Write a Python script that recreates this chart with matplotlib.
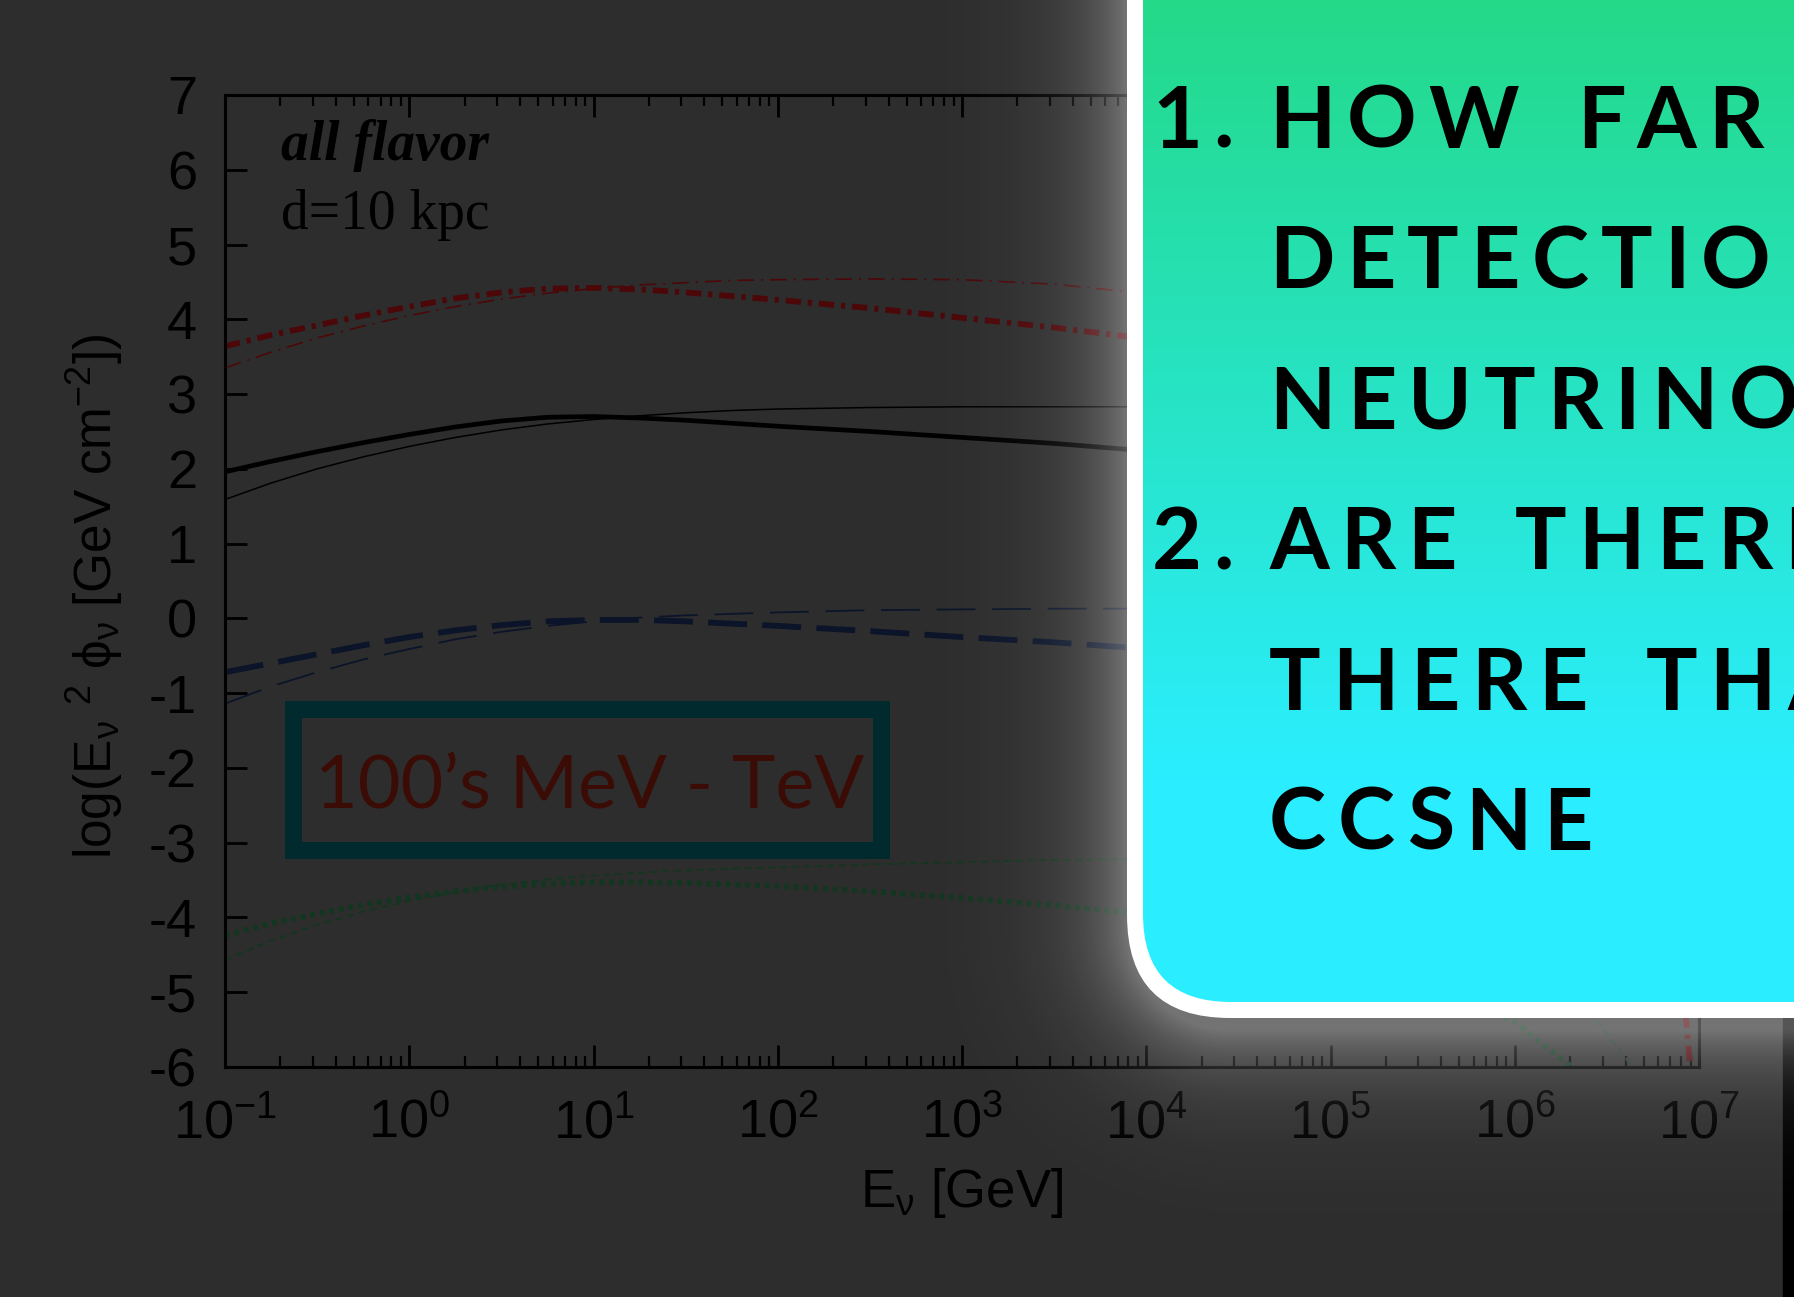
import numpy as np
import matplotlib
matplotlib.use("Agg")
import matplotlib.pyplot as plt
from matplotlib.patches import FancyBboxPatch, Rectangle
from matplotlib.ticker import LogLocator, MultipleLocator, NullFormatter

# =============================================================================
# Data: log10(E^2 phi) against log10(E / GeV)
# =============================================================================

LOGE = [-1, -0.75, -0.5, -0.25, 0, 0.25, 0.5, 0.75, 1, 1.25, 1.5, 1.75, 2,
        2.5, 3, 3.5, 3.9]

red_thick_loge = LOGE + [4.5, 5, 5.5, 6, 6.5, 6.8, 6.93, 6.97]
red_thick = [3.64, 3.79, 3.92, 4.05, 4.17, 4.28, 4.36, 4.41, 4.42, 4.40, 4.36, 4.31, 4.26,
             4.15, 4.02, 3.89, 3.77,
             3.55, 3.3, 2.95, 2.4, 1.2, -1.8, -5.37, -6.5]

red_thin_loge = LOGE + [4.5, 5, 5.5, 6, 6.5, 7]
red_thin = [3.35, 3.56, 3.75, 3.91, 4.05, 4.17, 4.27, 4.35, 4.41, 4.46, 4.49, 4.52, 4.53,
            4.54, 4.53, 4.47, 4.37,
            4.15, 3.85, 3.4, 2.6, 1.0, -2.0]

black_thick_loge = LOGE + [4.5, 5, 5.5, 6, 6.5, 7]
black_thick = [1.96, 2.10, 2.23, 2.35, 2.46, 2.56, 2.64, 2.69, 2.70, 2.68, 2.65, 2.61, 2.57,
               2.50, 2.42, 2.34, 2.26,
               2.1, 1.9, 1.6, 1.0, 0.0, -3.0]

black_thin_loge = LOGE + [4.5, 5, 5.5, 6, 6.5, 7]
black_thin = [1.59, 1.81, 2.0, 2.16, 2.3, 2.42, 2.52, 2.60, 2.66, 2.71, 2.75, 2.78, 2.80,
              2.82, 2.83, 2.83, 2.83,
              2.8, 2.7, 2.5, 2.0, 0.8, -2.0]

blue_thick_loge = LOGE + [4.5, 5, 5.5, 6, 6.5, 7]
blue_thick = [-0.72, -0.60, -0.48, -0.36, -0.25, -0.16, -0.09, -0.04, -0.02, -0.02, -0.04, -0.07, -0.10,
              -0.17, -0.25, -0.32, -0.39,
              -0.55, -0.75, -1.05, -1.6, -2.6, -4.5]

blue_thin_loge = LOGE + [4.5, 5, 5.5, 6, 6.5, 7]
blue_thin = [-1.14, -0.91, -0.72, -0.55, -0.41, -0.28, -0.18, -0.10, -0.04, 0.01, 0.04, 0.06, 0.08,
             0.11, 0.12, 0.13, 0.13,
             0.1, 0.0, -0.3, -1.0, -2.5, -4.5]

green_thick_loge = LOGE + [4.5, 5, 5.5, 6, 6.3, 6.45]
green_thick = [-4.24, -4.08, -3.95, -3.83, -3.73, -3.65, -3.59, -3.55, -3.53, -3.53, -3.54, -3.56, -3.58,
               -3.65, -3.74, -3.84, -3.93,
               -4.1, -4.35, -4.75, -5.4, -5.98, -6.4]

green_thin_loge = LOGE + [4.5, 5, 5.5, 6, 6.44, 6.6, 6.72]
green_thin = [-4.57, -4.31, -4.1, -3.92, -3.78, -3.66, -3.56, -3.49, -3.44, -3.40, -3.37, -3.35, -3.33,
              -3.29, -3.26, -3.23, -3.22,
              -3.3, -3.45, -3.8, -4.3, -5.37, -5.87, -6.4]

box_lines = [("1.", "HOW FAR"), ("", "DETECTIO"), ("", "NEUTRINOS"),
             ("2.", "ARE THERE"), ("", "THERE THAN"), ("", "CCSNE")]

# =============================================================================
# Style
# =============================================================================

W, H, DPI = 1794, 1297, 100
BG = "#2d2d2d"

plt.rcParams["font.family"] = ["Liberation Sans", "DejaVu Sans"]
plt.rcParams["mathtext.fontset"] = "custom"
plt.rcParams["mathtext.rm"] = "Liberation Sans"
plt.rcParams["mathtext.it"] = "Liberation Sans"
plt.rcParams["mathtext.sf"] = "Liberation Sans"
plt.rcParams["mathtext.bf"] = "Liberation Sans:bold"
plt.rcParams["axes.unicode_minus"] = False
plt.rcParams["lines.scale_dashes"] = False

fig = plt.figure(figsize=(W / DPI, H / DPI), dpi=DPI, facecolor=BG)
ax = fig.add_axes([225 / W, 230 / H, 1474 / W, 972 / H], facecolor=BG)

# =============================================================================
# Flux curves
# =============================================================================

def draw(loge, vals, color, lw, dashes=None):
    line, = ax.plot(10.0 ** np.array(loge), vals, color=color, lw=lw,
                    solid_capstyle="butt", dash_capstyle="butt",
                    solid_joinstyle="round")
    if dashes is not None:
        line.set_dashes(dashes)
    return line

RED, BLUE, GREEN, BLACK = "#4c0709", "#0b1429", "#12361f", "#000000"

draw(red_thick_loge, red_thick, RED, 4.2, (11, 5, 3, 5))
draw(red_thin_loge, red_thin, RED, 1.2, (12, 5, 1.5, 5))
draw(black_thick_loge, black_thick, BLACK, 3.4)
draw(black_thin_loge, black_thin, BLACK, 1.1)
draw(blue_thick_loge, blue_thick, BLUE, 4.2, (28, 11))
draw(blue_thin_loge, blue_thin, BLUE, 1.3, (28, 12))
draw(green_thick_loge, green_thick, GREEN, 4.0, (3.5, 3.5))
draw(green_thin_loge, green_thin, GREEN, 1.3, (5, 3.5))

ax.set_xscale("log")
ax.set_xlim(1e-1, 1e7)
ax.set_ylim(-6, 7)
ax.xaxis.set_major_locator(LogLocator(base=10, numticks=20))
ax.xaxis.set_minor_locator(LogLocator(base=10, subs=np.arange(2, 10), numticks=20))
ax.xaxis.set_minor_formatter(NullFormatter())
ax.yaxis.set_major_locator(MultipleLocator(1))

for sp in ax.spines.values():
    sp.set_linewidth(2.2)
    sp.set_color("black")
ax.tick_params(which="both", direction="in", top=True, right=True, colors="black",
               labelcolor="black", labelsize=39)
ax.tick_params(which="major", length=16, width=2.0)
ax.tick_params(which="minor", length=8, width=1.6)
ax.tick_params(axis="y", pad=20)
ax.tick_params(axis="x", pad=22)

ax.set_xlabel(r"E$_\nu$ [GeV]", fontsize=38, color="black", labelpad=12)
ax.set_ylabel(r"log(E$_\nu$ $^2$ $\phi_\nu$ [GeV cm$^{-2}$])", fontsize=37,
              color="black")
ax.yaxis.set_label_coords(-0.068, 0.484)

ax.text(0.038, 0.933, "all flavor", transform=ax.transAxes, fontsize=40,
        family="Liberation Serif", weight="bold", style="italic", color="black")
ax.text(0.038, 0.862, "d=10 kpc", transform=ax.transAxes, fontsize=40,
        family="Liberation Serif", color="black")

# =============================================================================
# Pixel-space layer: energy band label, glow, question box
# =============================================================================

ov = fig.add_axes([0, 0, 1, 1], zorder=5)
ov.set_xlim(0, W)
ov.set_ylim(H, 0)
ov.axis("off")
ov.patch.set_alpha(0)
renderer = fig.canvas.get_renderer()

# energy band label
ov.add_patch(Rectangle((292.5, 708.5), 588, 141, fill=False, ec="#002a2e", lw=12.2, zorder=1))
band = ov.text(590, 807, "100\u2019s MeV - TeV", ha="center", va="baseline",
               family="Lato", weight="normal", fontsize=60, color="#3b0c05", zorder=1)
bw = band.get_window_extent(renderer).width
band.set_fontsize(60 * 549 / bw)

# dark strip at the right edge below the box
ov.add_patch(Rectangle((1783, 1000), 30, 400, color="black", zorder=1.5))


def rounded_box_sdf(x, y, x0, y0, x1, y1, r):
    cx, cy = (x0 + x1) / 2, (y0 + y1) / 2
    bx, by = (x1 - x0) / 2 - r, (y1 - y0) / 2 - r
    qx = np.abs(x - cx) - bx
    qy = np.abs(y - cy) - by
    outside = np.hypot(np.maximum(qx, 0), np.maximum(qy, 0))
    inside = np.minimum(np.maximum(qx, qy), 0)
    return outside + inside - r


yy, xx = np.mgrid[0:H, 0:W] + 0.5
dist = rounded_box_sdf(xx, yy, 1127, -600, 2400, 1030, 103)
alpha = 0.34 * np.exp(-np.maximum(dist, 0) / 48.0)
glow = np.ones((H, W, 4))
glow[..., 3] = alpha
ov.imshow(glow, extent=[0, W, H, 0], aspect="auto", zorder=2, interpolation="bilinear")

# white rim and gradient fill
ov.add_patch(FancyBboxPatch((1127, -600), 1400, 1618,
                            boxstyle="round,pad=0,rounding_size=103",
                            fc="white", ec="none", zorder=3))
inner = FancyBboxPatch((1143, -600), 1400, 1602,
                       boxstyle="round,pad=0,rounding_size=88",
                       fc="none", ec="none", zorder=3.5)
ov.add_patch(inner)

top_c = np.array([0x24, 0xD9, 0x88]) / 255
bot_c = np.array([0x2A, 0xEE, 0xFF]) / 255
rows = np.arange(1002) + 0.5
t = np.clip(rows / 780.0, 0, 1)[:, None, None]
grad = top_c[None, None, :] + (bot_c - top_c)[None, None, :] * t
grad = np.repeat(grad, 2, axis=1)
gim = ov.imshow(grad, extent=[1143, W, 1002, 0], aspect="auto", zorder=4,
                interpolation="bilinear")
gim.set_clip_path(inner)

ov.set_xlim(0, W)
ov.set_ylim(H, 0)

# letter-spaced question text
TXT = dict(family="Lato", weight="bold", fontsize=62, color="black", zorder=5)


def ink_width(s):
    tmp = ov.text(0, 0, s, **TXT)
    w = tmp.get_window_extent(renderer).width
    tmp.remove()
    return w


# tracking chosen so that a few words span their set widths
fit_words = {"DETECTIO": 505, "CCSNE": 333, "HOW": 237}
natural = sum(ink_width(c) for wd in fit_words for c in wd)
gaps = sum(len(wd) - 1 for wd in fit_words)
track = (sum(fit_words.values()) - natural) / gaps
space = 58 - track


def tracked_text(x, y, s):
    for ch in s:
        if ch == " ":
            x += space
            continue
        tx = ov.text(x, y, ch, ha="left", va="baseline", **TXT)
        x += tx.get_window_extent(renderer).width + track
    return x


for i, (num, words) in enumerate(box_lines):
    base = 148 + 140.4 * i
    if num:
        tracked_text(1152, base, num)
    tracked_text(1269, base, words)

fig.savefig("out.png", dpi=DPI, facecolor=BG)
